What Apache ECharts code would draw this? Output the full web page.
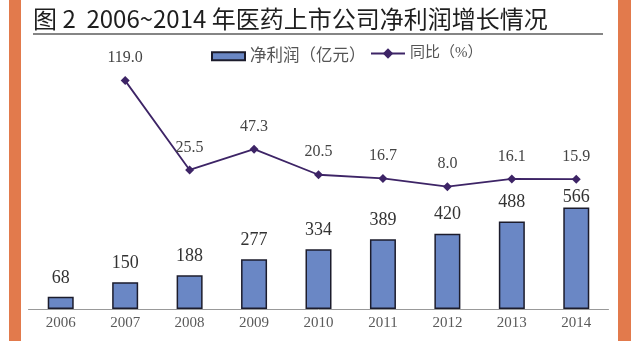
<!DOCTYPE html>
<html><head><meta charset="utf-8">
<script src="https://cdn.jsdelivr.net/npm/echarts@6/dist/echarts.min.js"></script>
<style>html,body{margin:0;padding:0;background:#fff}#c{width:640px;height:341px}</style>
</head><body><div id="c"></div>
<script>
const years = ['2006','2007','2008','2009','2010','2011','2012','2013','2014'];
const netProfit = [68, 150, 188, 277, 334, 389, 420, 488, 566];
const yoyGrowth = [null, 119.0, 25.5, 47.3, 20.5, 16.7, 8.0, 16.1, 15.9];
const seriesNames = ['净利润（亿元）', '同比（%）'];
const titleText = '图 2  2006~2014 年医药上市公司净利润增长情况';

const chart = echarts.init(document.getElementById('c'), null, {renderer: 'canvas'});
const serif = '"Liberation Serif", "DejaVu Serif", serif';
const lastIdx = netProfit.length - 1;
chart.setOption({
  backgroundColor: '#ffffff',
  animation: false,
  title: {
    text: titleText, left: 28, top: 2,
    textStyle: {fontFamily: '"Noto Sans CJK SC"', fontSize: 24, fontWeight: 'normal', color: '#1e1e1e'}
  },
  graphic: [
    {type: 'rect', shape: {x: 9, y: 0, width: 12, height: 341}, style: {fill: '#E27A4C'}},
    {type: 'rect', shape: {x: 618, y: 0, width: 13, height: 341}, style: {fill: '#E27A4C'}},
    {type: 'line', shape: {x1: 33, y1: 34, x2: 603, y2: 34}, style: {stroke: '#858585', lineWidth: 2}}
  ],
  legend: [
    {
      left: 206, top: 43, itemWidth: 33, itemHeight: 8,
      textStyle: {fontFamily: serif + ', "Noto Sans CJK SC"', fontSize: 16.5, color: '#555'},
      data: [{name: seriesNames[0], icon: 'rect'}]
    },
    {
      left: 365, top: 41, itemWidth: 34, itemHeight: 13,
      textStyle: {fontFamily: serif + ', "Noto Sans CJK SC"', fontSize: 15, color: '#555'},
      data: [{name: seriesNames[1]}]
    }
  ],
  grid: {left: 28.5, right: 31.5, top: 51, bottom: 32},
  xAxis: {
    type: 'category', data: years,
    axisLine: {lineStyle: {color: '#999', width: 1}},
    axisTick: {inside: true, length: 5, lineStyle: {color: '#999'}},
    axisLabel: {fontFamily: serif, fontSize: 15, color: '#5a5a5a', margin: 7}
  },
  yAxis: [
    {type: 'value', min: 0, max: 1440, show: false, splitLine: {show: false}},
    {type: 'value', min: -120, max: 150, show: false, splitLine: {show: false}}
  ],
  series: [
    {
      name: seriesNames[0], type: 'bar', yAxisIndex: 0, barWidth: 26,
      itemStyle: {color: '#6A87C5', borderColor: '#1c1c2c', borderWidth: 1.5},
      label: {show: true, position: 'top', distance: 10, fontFamily: serif, fontSize: 18, color: '#333'},
      data: netProfit.map((v, i) => i === lastIdx ? {value: v, label: {distance: 1}} : v)
    },
    {
      name: seriesNames[1], type: 'line', yAxisIndex: 1,
      symbol: 'diamond', symbolSize: 9,
      lineStyle: {color: '#3D2466', width: 1.8},
      itemStyle: {color: '#3D2466'},
      label: {show: true, position: 'top', distance: 10, fontFamily: serif, fontSize: 16, color: '#444',
        formatter: p => p.value == null ? '' : Number(p.value).toFixed(1)},
      data: yoyGrowth
    }
  ]
});
</script></body></html>
